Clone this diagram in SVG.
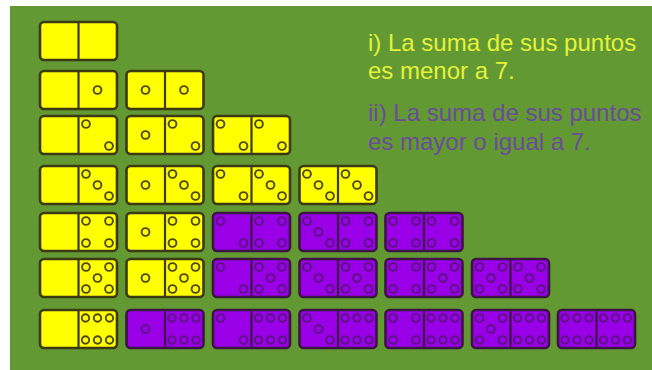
<svg xmlns="http://www.w3.org/2000/svg" xmlns:xlink="http://www.w3.org/1999/xlink" width="652" height="370" viewBox="0 0 652 370">
<style>
.bg{fill:#639933}
.dom rect{stroke-width:2.6}
.dom line{stroke-width:2.2}
.y rect{fill:#ffff00;stroke:#3c3a12}
.y line{stroke:#3c3a12}
.y use{stroke:#4e4a12}
.p rect{fill:#9900e8;stroke:#3a1640}
.p line{stroke:#3a1640}
.p use{stroke:#5a1480}
.t{font-family:"Liberation Sans",Arial,sans-serif;font-size:24px}
.t1{fill:#e4f23a}
.t2{fill:#6a4c9a}
</style>
<defs>
<g id="h1"><circle cx="19" cy="19" r="3.9" fill="none" stroke-width="1.9"/></g>
<g id="h2"><circle cx="7.5" cy="8" r="3.9" fill="none" stroke-width="1.9"/><circle cx="30.5" cy="30" r="3.9" fill="none" stroke-width="1.9"/></g>
<g id="h3"><circle cx="7.5" cy="8" r="3.9" fill="none" stroke-width="1.9"/><circle cx="19" cy="19" r="3.9" fill="none" stroke-width="1.9"/><circle cx="30.5" cy="30" r="3.9" fill="none" stroke-width="1.9"/></g>
<g id="h4"><circle cx="7.5" cy="8" r="3.9" fill="none" stroke-width="1.9"/><circle cx="30.5" cy="8" r="3.9" fill="none" stroke-width="1.9"/><circle cx="7.5" cy="30" r="3.9" fill="none" stroke-width="1.9"/><circle cx="30.5" cy="30" r="3.9" fill="none" stroke-width="1.9"/></g>
<g id="h5"><circle cx="7.5" cy="8" r="3.9" fill="none" stroke-width="1.9"/><circle cx="30.5" cy="8" r="3.9" fill="none" stroke-width="1.9"/><circle cx="19" cy="19" r="3.9" fill="none" stroke-width="1.9"/><circle cx="7.5" cy="30" r="3.9" fill="none" stroke-width="1.9"/><circle cx="30.5" cy="30" r="3.9" fill="none" stroke-width="1.9"/></g>
<g id="h6"><circle cx="7" cy="8" r="3.7" fill="none" stroke-width="1.9"/><circle cx="19" cy="8" r="3.7" fill="none" stroke-width="1.9"/><circle cx="31" cy="8" r="3.7" fill="none" stroke-width="1.9"/><circle cx="7" cy="30" r="3.7" fill="none" stroke-width="1.9"/><circle cx="19" cy="30" r="3.7" fill="none" stroke-width="1.9"/><circle cx="31" cy="30" r="3.7" fill="none" stroke-width="1.9"/></g>
</defs>
<rect x="0" y="0" width="652" height="370" fill="#ffffff"/>
<rect class="bg" x="10" y="6" width="642" height="364"/>

<g id="text">
<text class="t t1" x="368" y="51">i) La suma de sus puntos</text>
<text class="t t1" x="368" y="79">es menor a 7.</text>
<text class="t t2" x="368" y="121">ii) La suma de sus puntos</text>
<text class="t t2" x="368" y="150">es mayor o igual a 7.</text>
</g>

<g id="connectors"></g>

<!-- row 0 -->
<g id="d00" class="dom y" transform="translate(40,22)"><rect width="77" height="38" rx="4"/><line x1="38.5" y1="0" x2="38.5" y2="38"/></g>
<!-- row 1 -->
<g id="d01" class="dom y" transform="translate(40,71)"><rect width="77" height="38" rx="4"/><line x1="38.5" y1="0" x2="38.5" y2="38"/><use xlink:href="#h1" x="38.5"/></g>
<g id="d11" class="dom y" transform="translate(126.5,71)"><rect width="77" height="38" rx="4"/><line x1="38.5" y1="0" x2="38.5" y2="38"/><use xlink:href="#h1"/><use xlink:href="#h1" x="38.5"/></g>
<!-- row 2 -->
<g id="d02" class="dom y" transform="translate(40,116)"><rect width="77" height="38" rx="4"/><line x1="38.5" y1="0" x2="38.5" y2="38"/><use xlink:href="#h2" x="38.5"/></g>
<g id="d12" class="dom y" transform="translate(126.5,116)"><rect width="77" height="38" rx="4"/><line x1="38.5" y1="0" x2="38.5" y2="38"/><use xlink:href="#h1"/><use xlink:href="#h2" x="38.5"/></g>
<g id="d22" class="dom y" transform="translate(213,116)"><rect width="77" height="38" rx="4"/><line x1="38.5" y1="0" x2="38.5" y2="38"/><use xlink:href="#h2"/><use xlink:href="#h2" x="38.5"/></g>
<!-- row 3 -->
<g id="d03" class="dom y" transform="translate(40,166)"><rect width="77" height="38" rx="4"/><line x1="38.5" y1="0" x2="38.5" y2="38"/><use xlink:href="#h3" x="38.5"/></g>
<g id="d13" class="dom y" transform="translate(126.5,166)"><rect width="77" height="38" rx="4"/><line x1="38.5" y1="0" x2="38.5" y2="38"/><use xlink:href="#h1"/><use xlink:href="#h3" x="38.5"/></g>
<g id="d23" class="dom y" transform="translate(213,166)"><rect width="77" height="38" rx="4"/><line x1="38.5" y1="0" x2="38.5" y2="38"/><use xlink:href="#h2"/><use xlink:href="#h3" x="38.5"/></g>
<g id="d33" class="dom y" transform="translate(299.5,166)"><rect width="77" height="38" rx="4"/><line x1="38.5" y1="0" x2="38.5" y2="38"/><use xlink:href="#h3"/><use xlink:href="#h3" x="38.5"/></g>
<!-- row 4 -->
<g id="d04" class="dom y" transform="translate(40,213)"><rect width="77" height="38" rx="4"/><line x1="38.5" y1="0" x2="38.5" y2="38"/><use xlink:href="#h4" x="38.5"/></g>
<g id="d14" class="dom y" transform="translate(126.5,213)"><rect width="77" height="38" rx="4"/><line x1="38.5" y1="0" x2="38.5" y2="38"/><use xlink:href="#h1"/><use xlink:href="#h4" x="38.5"/></g>
<g id="d24" class="dom p" transform="translate(213,213)"><rect width="77" height="38" rx="4"/><line x1="38.5" y1="0" x2="38.5" y2="38"/><use xlink:href="#h2"/><use xlink:href="#h4" x="38.5"/></g>
<g id="d34" class="dom p" transform="translate(299.5,213)"><rect width="77" height="38" rx="4"/><line x1="38.5" y1="0" x2="38.5" y2="38"/><use xlink:href="#h3"/><use xlink:href="#h4" x="38.5"/></g>
<g id="d44" class="dom p" transform="translate(385.5,213)"><rect width="77" height="38" rx="4"/><line x1="38.5" y1="0" x2="38.5" y2="38"/><use xlink:href="#h4"/><use xlink:href="#h4" x="38.5"/></g>
<!-- row 5 -->
<g id="d05" class="dom y" transform="translate(40,259)"><rect width="77" height="38" rx="4"/><line x1="38.5" y1="0" x2="38.5" y2="38"/><use xlink:href="#h5" x="38.5"/></g>
<g id="d15" class="dom y" transform="translate(126.5,259)"><rect width="77" height="38" rx="4"/><line x1="38.5" y1="0" x2="38.5" y2="38"/><use xlink:href="#h1"/><use xlink:href="#h5" x="38.5"/></g>
<g id="d25" class="dom p" transform="translate(213,259)"><rect width="77" height="38" rx="4"/><line x1="38.5" y1="0" x2="38.5" y2="38"/><use xlink:href="#h2"/><use xlink:href="#h5" x="38.5"/></g>
<g id="d35" class="dom p" transform="translate(299.5,259)"><rect width="77" height="38" rx="4"/><line x1="38.5" y1="0" x2="38.5" y2="38"/><use xlink:href="#h3"/><use xlink:href="#h5" x="38.5"/></g>
<g id="d45" class="dom p" transform="translate(385.5,259)"><rect width="77" height="38" rx="4"/><line x1="38.5" y1="0" x2="38.5" y2="38"/><use xlink:href="#h4"/><use xlink:href="#h5" x="38.5"/></g>
<g id="d55" class="dom p" transform="translate(472,259)"><rect width="77" height="38" rx="4"/><line x1="38.5" y1="0" x2="38.5" y2="38"/><use xlink:href="#h5"/><use xlink:href="#h5" x="38.5"/></g>
<!-- row 6 -->
<g id="d06" class="dom y" transform="translate(40,310)"><rect width="77" height="38" rx="4"/><line x1="38.5" y1="0" x2="38.5" y2="38"/><use xlink:href="#h6" x="38.5"/></g>
<g id="d16" class="dom p" transform="translate(126.5,310)"><rect width="77" height="38" rx="4"/><line x1="38.5" y1="0" x2="38.5" y2="38"/><use xlink:href="#h1"/><use xlink:href="#h6" x="38.5"/></g>
<g id="d26" class="dom p" transform="translate(213,310)"><rect width="77" height="38" rx="4"/><line x1="38.5" y1="0" x2="38.5" y2="38"/><use xlink:href="#h2"/><use xlink:href="#h6" x="38.5"/></g>
<g id="d36" class="dom p" transform="translate(299.5,310)"><rect width="77" height="38" rx="4"/><line x1="38.5" y1="0" x2="38.5" y2="38"/><use xlink:href="#h3"/><use xlink:href="#h6" x="38.5"/></g>
<g id="d46" class="dom p" transform="translate(385.5,310)"><rect width="77" height="38" rx="4"/><line x1="38.5" y1="0" x2="38.5" y2="38"/><use xlink:href="#h4"/><use xlink:href="#h6" x="38.5"/></g>
<g id="d56" class="dom p" transform="translate(472,310)"><rect width="77" height="38" rx="4"/><line x1="38.5" y1="0" x2="38.5" y2="38"/><use xlink:href="#h5"/><use xlink:href="#h6" x="38.5"/></g>
<g id="d66" class="dom p" transform="translate(558,310)"><rect width="77" height="38" rx="4"/><line x1="38.5" y1="0" x2="38.5" y2="38"/><use xlink:href="#h6"/><use xlink:href="#h6" x="38.5"/></g>
</svg>
